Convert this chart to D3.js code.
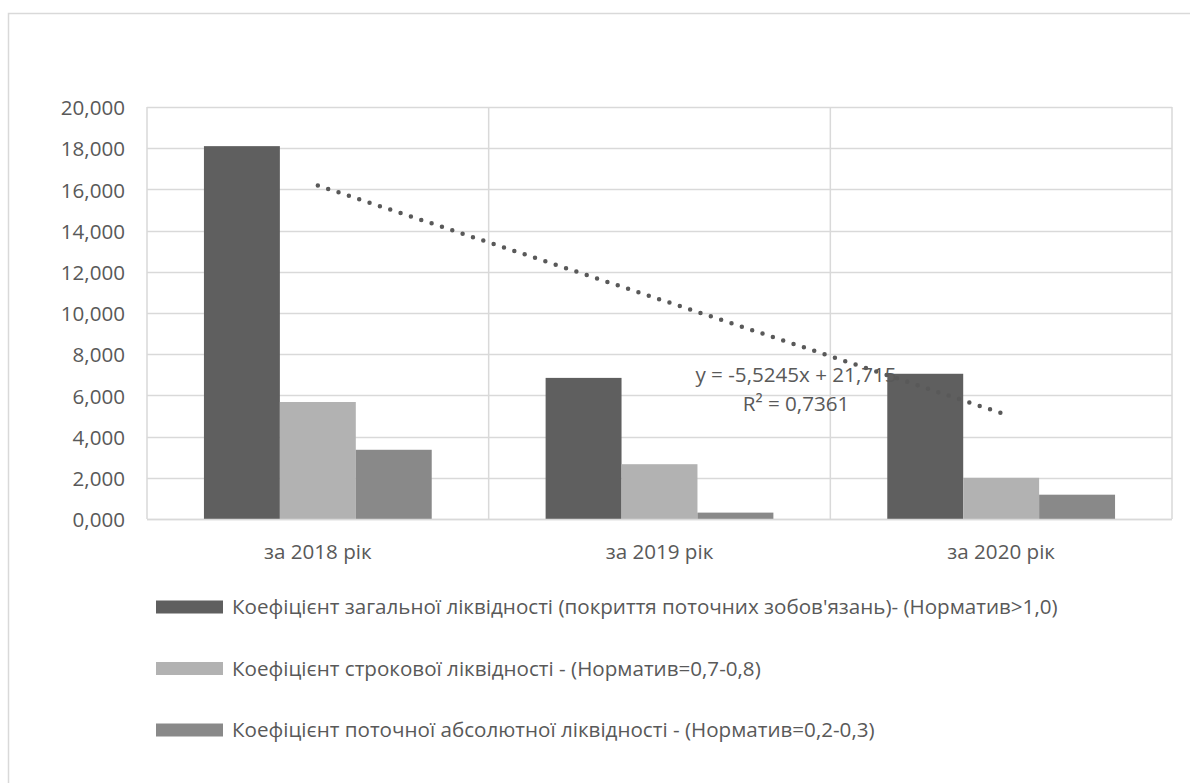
<!DOCTYPE html>
<html>
<head>
<meta charset="utf-8">
<script src="https://cdn.jsdelivr.net/npm/d3@7"></script>
<style>
  html, body { margin: 0; padding: 0; background: #fff; }
  svg { display: block; }
  text { font-family: "Open Sans", "Noto Sans", sans-serif; fill: #595959; }
</style>
</head>
<body>
<svg id="chart" width="1190" height="783"></svg>
<script>
// Periods on the category axis
const categories = ["за 2018 рік", "за 2019 рік", "за 2020 рік"];

// Liquidity ratios per period
const seriesNames = [
  "Коефіцієнт загальної ліквідності (покриття поточних зобов'язань)- (Норматив>1,0)",
  "Коефіцієнт строкової ліквідності - (Норматив=0,7-0,8)",
  "Коефіцієнт поточної абсолютної ліквідності - (Норматив=0,2-0,3)"
];
const generalLiquidity = [18.10, 6.85, 7.05];
const termLiquidity = [5.68, 2.66, 2.00];
const absoluteLiquidity = [3.36, 0.31, 1.18];
const seriesColors = ["#5f5f5f", "#b2b2b2", "#898989"];

// Value-axis ticks
const yTicks = [0, 2, 4, 6, 8, 10, 12, 14, 16, 18, 20];

// Linear trend of the general liquidity ratio
const trendSlope = -5.5245;
const trendIntercept = 21.715;
const trendR2 = "0,7361";
const trendLabel = "y = -5,5245x + 21,715";

const allSeries = [generalLiquidity, termLiquidity, absoluteLiquidity];

const svg = d3.select("#chart");
const plot = { left: 147, right: 1172, top: 107, bottom: 519 };
const fontSize = "20.6px";

// Outer chart frame
svg.append("rect")
  .attr("x", 8.5).attr("y", 13.5)
  .attr("width", 1200).attr("height", 800)
  .attr("fill", "none").attr("stroke", "#d9d9d9").attr("stroke-width", 1.5);

const x0 = d3.scaleBand().domain(categories).range([plot.left, plot.right]).paddingInner(0).paddingOuter(0);
const x1 = d3.scaleBand().domain(d3.range(allSeries.length)).range([0, x0.bandwidth()])
  .paddingInner(0).paddingOuter(0.75);
const y = d3.scaleLinear().domain([0, 20]).range([plot.bottom, plot.top]);

const locale = d3.formatLocale({ decimal: ",", thousands: " ", grouping: [3], currency: ["", ""] });
const fmt = locale.format(".3f");

// Horizontal gridlines
svg.append("g").selectAll("line").data(yTicks).join("line")
  .attr("x1", plot.left).attr("x2", plot.right)
  .attr("y1", d => Math.round(y(d)) + 0.5).attr("y2", d => Math.round(y(d)) + 0.5)
  .attr("stroke", "#d9d9d9").attr("stroke-width", 1.5);

// Vertical category separators
const seps = categories.map(c => x0(c)).concat([plot.right]);
svg.append("g").selectAll("line").data(seps).join("line")
  .attr("x1", d => d).attr("x2", d => d)
  .attr("y1", plot.top).attr("y2", plot.bottom)
  .attr("stroke", "#d9d9d9").attr("stroke-width", 1.5);

// Bars
const groups = svg.append("g").selectAll("g").data(categories).join("g")
  .attr("transform", c => `translate(${x0(c)},0)`);
groups.selectAll("rect")
  .data((c, ci) => allSeries.map((s, si) => ({ si, v: s[ci] })))
  .join("rect")
  .attr("x", d => x1(d.si))
  .attr("width", x1.bandwidth())
  .attr("y", d => y(d.v))
  .attr("height", d => y(0) - y(d.v))
  .attr("fill", d => seriesColors[d.si]);

// Baseline
svg.append("line")
  .attr("x1", plot.left).attr("x2", plot.right)
  .attr("y1", plot.bottom + 0.5).attr("y2", plot.bottom + 0.5)
  .attr("stroke", "#d9d9d9").attr("stroke-width", 1.5);

// Y tick labels
svg.append("g").selectAll("text").data(yTicks).join("text")
  .attr("x", 125).attr("y", d => y(d) + 1)
  .attr("dy", "0.35em")
  .attr("text-anchor", "end")
  .style("font-size", fontSize)
  .text(d => fmt(d));

// Category labels
svg.append("g").selectAll("text").data(categories).join("text")
  .attr("x", c => x0(c) + x0.bandwidth() / 2)
  .attr("y", 552).attr("dy", "0.35em")
  .attr("text-anchor", "middle")
  .style("font-size", fontSize)
  .text(c => c);

// Trendline (dotted), from first to last category centre
const trendX = d3.scaleLinear().domain([1, categories.length])
  .range([x0(categories[0]) + x0.bandwidth() / 2, x0(categories[categories.length - 1]) + x0.bandwidth() / 2]);
const trendPts = [1, categories.length].map(t => [trendX(t), y(trendSlope * t + trendIntercept)]);
svg.append("path")
  .attr("d", d3.line()(trendPts))
  .attr("fill", "none")
  .attr("stroke", "#595959")
  .attr("stroke-width", 4.5)
  .attr("stroke-linecap", "round")
  .attr("stroke-dasharray", "0 10.9");

// Trend equation label
const eq = svg.append("g").attr("transform", "translate(796,0)");
eq.append("text").attr("x", 0).attr("y", 375).attr("dy", "0.35em")
  .attr("text-anchor", "middle").style("font-size", fontSize).text(trendLabel);
eq.append("text").attr("x", 0).attr("y", 404).attr("dy", "0.35em")
  .attr("text-anchor", "middle").style("font-size", fontSize).text("R² = " + trendR2);

// Legend
const legendRows = [607, 668.5, 730];
const legend = svg.append("g").selectAll("g").data(seriesNames).join("g")
  .attr("transform", (d, i) => `translate(156,${legendRows[i]})`);
legend.append("rect")
  .attr("x", 0).attr("y", -6.5).attr("width", 67).attr("height", 13)
  .attr("fill", (d, i) => seriesColors[i]);
legend.append("text")
  .attr("x", 76).attr("y", 0).attr("dy", "0.35em")
  .style("font-size", fontSize)
  .text(d => d);
</script>
</body>
</html>
